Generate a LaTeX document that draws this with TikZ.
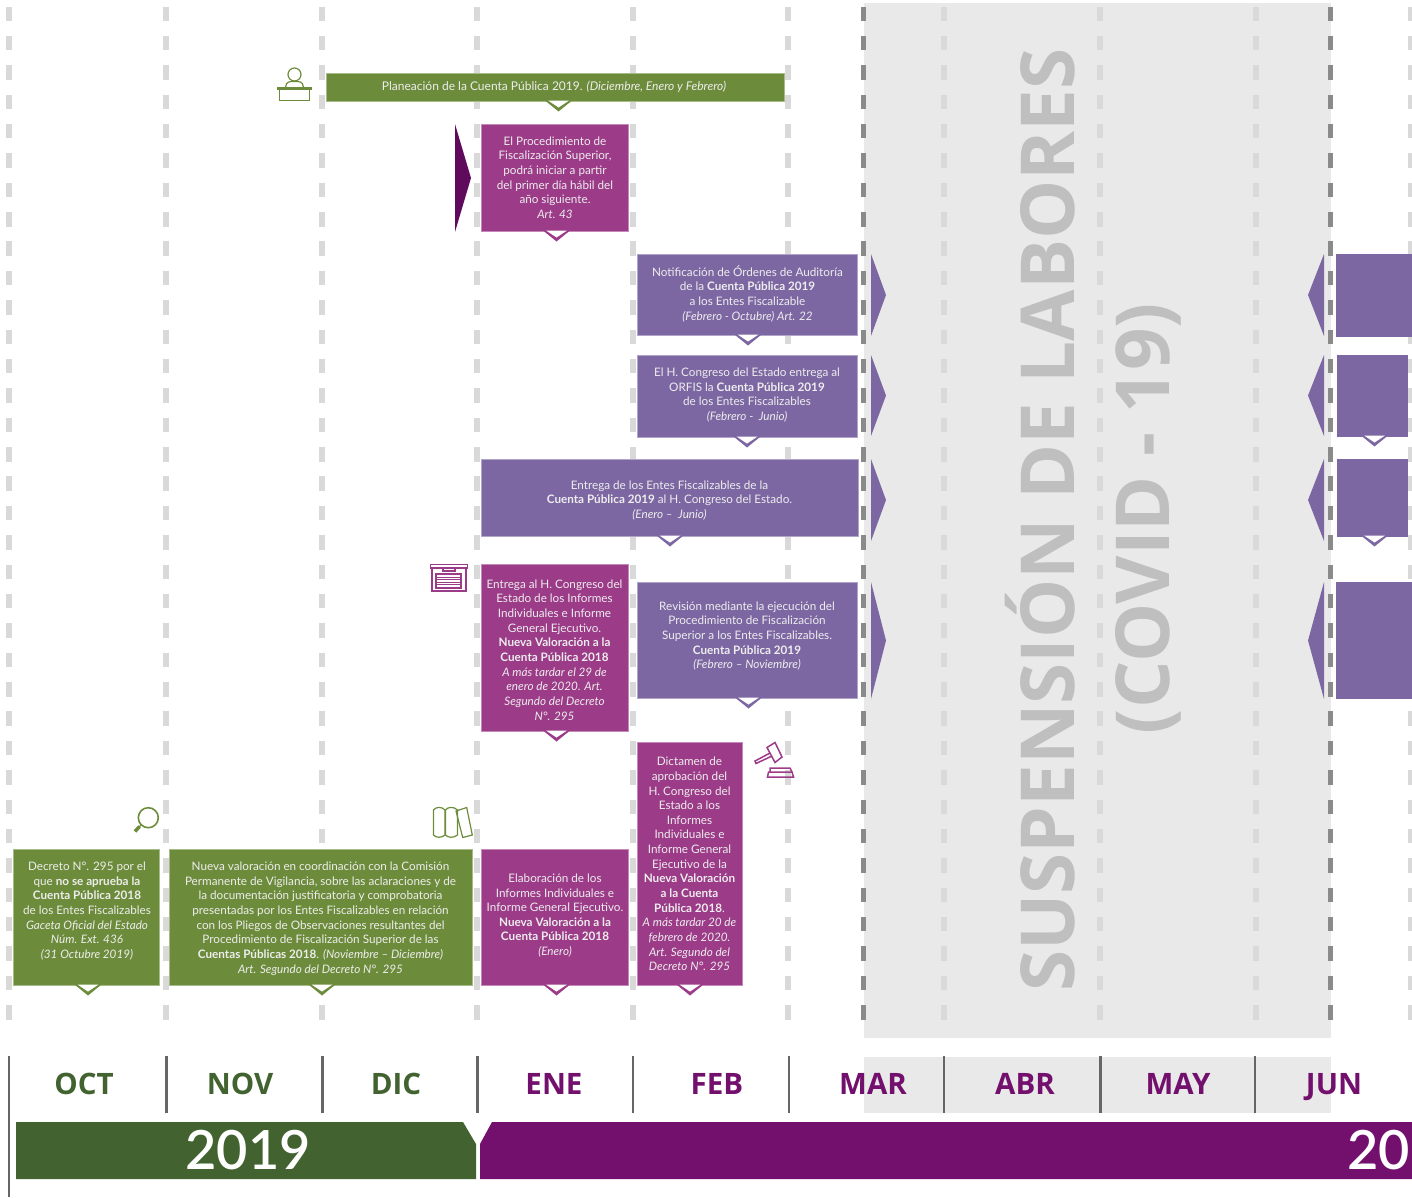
\documentclass[tikz,border=0pt]{standalone}
\usepackage{fontspec}
\setmainfont{Lato}
\newfontfamily\headfont{Open Sans}
\newfontfamily\yearfont{Lato Semibold}
\definecolor{cgreen}{HTML}{6D8C3B}
\definecolor{cmag}{HTML}{9C3B88}
\definecolor{cvio}{HTML}{7C67A3}
\definecolor{cdpur}{HTML}{5F0A5C}
\definecolor{cyeargreen}{HTML}{426330}
\definecolor{cyearpur}{HTML}{73106E}
\definecolor{cband}{HTML}{E9E9E9}
\definecolor{cdash}{HTML}{D9D9D9}
\definecolor{cdashd}{HTML}{8A8A8A}
\definecolor{ctick}{HTML}{666666}
\definecolor{ctitle}{HTML}{BFBFBF}
\tikzset{
  guide/.style={draw=cdash,line width=6pt,dash pattern=on 14.5pt off 14.87pt},
  guidedark/.style={draw=cdashd,line width=5pt,dash pattern=on 14.5pt off 14.87pt},
  monthtick/.style={draw=ctick,line width=2.5pt},
  boxtext/.style={text=white!93!black,align=center,inner sep=0pt,font=\fontsize{11.7}{14.65}\selectfont},
  monthlabel/.style={inner sep=0pt,anchor=base,font=\headfont\fontsize{29.5}{30}\selectfont\bfseries},
  yearlabel/.style={inner sep=0pt,text=white,font=\yearfont\fontsize{54}{54}\selectfont},
  bigtitle/.style={inner sep=0pt,text=ctitle,rotate=90,font=\headfont\bfseries\fontsize{74.5}{74.5}\selectfont},
  iconline/.style={line width=1.2pt,fill=none},
}
% name, x1, y1, x2, y2, colour
\newcommand{\bx}[6]{\node[fill=#6,draw=#6!60,line width=.6pt,outer sep=0pt,inner sep=0pt,anchor=north west,minimum width=#4pt-#2pt-.6pt,minimum height=#5pt-#3pt-.6pt] (#1) at (#2,#3) {};}
% x, box bottom y, colour
\newcommand{\chev}[3]{%
  \fill[#3] ({#1-13.5},{#2-1.5}) -- ({#1+13.5},{#2-1.5}) -- (#1,{#2+9.5}) -- cycle;
  \fill[white] ({#1-10.5},{#2-1.5}) -- ({#1+10.5},{#2-1.5}) -- (#1,{#2+5.5}) -- cycle;}
\begin{document}
\begin{tikzpicture}[x=1pt,y=-1pt]
\useasboundingbox (0,0) rectangle (1412,1197);
\begin{scope}
\clip (0,0) rectangle (1412,1197);
% suspended band
\fill[cband] (864,3) rectangle (1331,1038);
\fill[cband] (864,1057) rectangle (1331,1113);
% guides
\foreach \gx in {9,165.5,321.5,477,632.5,788,944,1100,1256,1410.5}
  \draw[guide] (\gx,6.5) -- (\gx,1021);
\foreach \gx in {863.7,1330.3}
  \draw[guidedark] (\gx,6.5) -- (\gx,1021);
% title
\node[bigtitle] (t1) at (1040,520) {SUSPENSIÓN DE LABORES};
\node[bigtitle] (t2) at (1148,518.5) {(COVID - 19)};
% boxes
\bx{plan}{326}{73}{785}{102}{cgreen}
\chev{558.5}{102}{cgreen}
\node[boxtext,font=\fontsize{12}{14.65}\selectfont] (plant) at (554,87) {Planeación de la Cuenta Pública 2019. \textit{(Diciembre, Enero y Febrero)}};

\fill[cdpur] (455,124) -- (471,178) -- (455,232) -- cycle;
\bx{proc}{481}{124}{629}{232}{cmag}
\chev{556.5}{232}{cmag}
\node[boxtext] (proct) at (555,177.5) {El Procedimiento de\\Fiscalización Superior,\\podrá iniciar a partir\\del primer día hábil del\\año siguiente.\\\textit{Art. 43}};

\bx{notif}{637}{254}{858}{336}{cvio}
\chev{748}{336}{cvio}
\node[boxtext] (notift) at (747.5,293.5) {Notificación de Órdenes de Auditoría\\de la \textbf{Cuenta Pública 2019}\\a los Entes Fiscalizable\\\textit{(Febrero - Octubre) Art. 22}};

\bx{cong}{637}{355}{858}{438}{cvio}
\chev{747}{438}{cvio}
\node[boxtext] (congt) at (747,395) {El H. Congreso del Estado entrega al\\ORFIS la \textbf{Cuenta Pública 2019}\\de los Entes Fiscalizables\\\textit{(Febrero -\ \ Junio)}};

\bx{entr}{481}{459}{859}{537}{cvio}
\chev{670}{537}{cvio}
\node[boxtext] (entrt) at (669.5,500.5) {Entrega de los Entes Fiscalizables de la\\\textbf{Cuenta Pública 2019} al H. Congreso del Estado.\\\textit{(Enero --\ \ Junio)}};

\bx{enal}{481}{564}{629}{732}{cmag}
\chev{556.5}{732}{cmag}
\node[boxtext] (enalt) at (554.5,650) {Entrega al H. Congreso del\\Estado de los Informes\\Individuales e Informe\\General Ejecutivo.\\\textbf{Nueva Valoración a la}\\\textbf{Cuenta Pública 2018}\\\textit{A más tardar el 29 de}\\\textit{enero de 2020. Art.}\\\textit{Segundo del Decreto}\\\textit{N°. 295}};

\bx{rev}{637}{582}{858}{699}{cvio}
\chev{748.5}{699}{cvio}
\node[boxtext] (revt) at (747,636) {Revisión mediante la ejecución del\\Procedimiento de Fiscalización\\Superior a los Entes Fiscalizables.\\\textbf{Cuenta Pública 2019}\\\textit{(Febrero -- Noviembre)}};

\bx{dict}{637}{742}{743}{986}{cmag}
\chev{690}{986}{cmag}
\node[boxtext] (dictt) at (689.5,864) {Dictamen de\\aprobación del\\H. Congreso del\\Estado a los\\Informes\\Individuales e\\Informe General\\Ejecutivo de la\\\textbf{Nueva Valoración}\\\textbf{a la Cuenta}\\\textbf{Pública 2018}.\\\textit{A más tardar 20 de}\\\textit{febrero de 2020.}\\\textit{Art. Segundo del}\\\textit{Decreto N°. 295}};

\bx{decr}{13}{849}{160}{986}{cgreen}
\chev{88}{986}{cgreen}
\node[boxtext] (decrt) at (87,911) {Decreto N°. 295 por el\\que \textbf{no se aprueba la}\\\textbf{Cuenta Pública 2018}\\de los Entes Fiscalizables\\\textit{Gaceta Oficial del Estado}\\\textit{Núm. Ext. 436}\\\textit{(31 Octubre 2019)}};

\bx{nuev}{169}{849}{473}{986}{cgreen}
\chev{322}{986}{cgreen}
\node[boxtext] (nuevt) at (320.5,918.5) {Nueva valoración en coordinación con la Comisión\\Permanente de Vigilancia, sobre las aclaraciones y de\\la documentación justificatoria y comprobatoria\\presentadas por los Entes Fiscalizables en relación\\con los Pliegos de Observaciones resultantes del\\Procedimiento de Fiscalización Superior de las\\\textbf{Cuentas Públicas 2018}. \textit{(Noviembre -- Diciembre)}\\\textit{Art. Segundo del Decreto N°. 295}};

\bx{elab}{481}{849}{629}{986}{cmag}
\chev{556.5}{986}{cmag}
\node[boxtext] (elabt) at (555,915.5) {Elaboración de los\\Informes Individuales e\\Informe General Ejecutivo.\\\textbf{Nueva Valoración a la}\\\textbf{Cuenta Pública 2018}\\\textit{(Enero)}};

% side arrows
\foreach \ya/\yb in {254/336,355/436,459/541,582/699}{
  \fill[cvio] (871,\ya) -- (886,{(\ya+\yb)/2}) -- (871,\yb) -- cycle;
  \fill[cvio] (1324,\ya) -- (1308,{(\ya+\yb)/2}) -- (1324,\yb) -- cycle;
}
% right continuation boxes
\fill[cvio] (1336,254) rectangle (1412,337);
\fill[cvio] (1337,355) rectangle (1408,437);
\chev{1374.5}{437}{cvio}
\fill[cvio] (1337,459) rectangle (1408,537);
\chev{1374.5}{537}{cvio}
\fill[cvio] (1336,582) rectangle (1412,699);
% icon: lectern
\begin{scope}[draw=cgreen,iconline]
  \draw (294.5,74.5) circle (6.5);
  \draw (285.5,87.5) .. controls (286,81) and (290,81.5) .. (294.5,81.5) .. controls (299,81.5) and (303,81) .. (303.5,87.5);
  \draw (277.5,88) rectangle (311.5,89.5);
  \draw (279.5,89.5) rectangle (309.5,100.5);
\end{scope}
% icon: archive
\begin{scope}[draw=cmag,iconline]
  \draw (430.5,564.5) rectangle (467.5,568);
  \draw (432,568) rectangle (466,591);
  \draw (436,574) rectangle (461,588);
  \draw (443,568) -- (443,571) -- (455,571) -- (455,568);
  \foreach \ly in {577,579.5,582,584.5} \draw[line width=.5pt] (437,\ly) -- (460,\ly);
\end{scope}
% icon: gavel
\begin{scope}[draw=cmag,line width=1.5pt,fill=none]
  \draw (767,747.5) -- (775,742.5) -- (782,757) -- (775,762.5) -- cycle;
  \draw (770,753) -- (755,761) -- (756,763.5) -- (772,756);
  \draw (770,772) -- (770,768) -- (790,768) -- (792,772);
  \draw (767.5,777) -- (768.5,772) -- (792,772) -- (793.5,777) -- cycle;
\end{scope}
% icon: magnifier
\draw[cgreen,line width=1.6pt] (148.3,817.7) circle (10);
\draw[cgreen,line width=1.2pt] (141.3,824.7) -- (139,827);
\draw[cgreen,line width=3.5pt] (139.5,826.5) -- (135,831.5);
% icon: books
\begin{scope}[draw=cgreen,iconline]
  \draw (433.5,810) .. controls (436,806.5) and (442,806.5) .. (445,810) -- (445,835) .. controls (442,838) and (436,838) .. (433.5,835) -- cycle;
  \draw (445.5,810) .. controls (448,806.5) and (454,806.5) .. (457.5,810) -- (457.5,835) .. controls (454,838) and (448,838) .. (445.5,835) -- cycle;
  \draw (456,811) -- (466.7,807.5) -- (472.3,835) -- (462.7,837.5) -- cycle;
\end{scope}
% months
\foreach \tx in {166.5,322.5,477.5,633,789,944,1100.5,1255}
  \draw[monthtick] (\tx,1056) -- (\tx,1113);
\draw[monthtick] (9,1056) -- (9,1197);
\foreach \nm/\mx/\mc in {OCT/84/cyeargreen,NOV/240/cyeargreen,DIC/396/cyeargreen,ENE/554/cyearpur,FEB/717/cyearpur,MAR/873/cyearpur,ABR/1025/cyearpur,MAY/1178/cyearpur,JUN/1334/cyearpur}
  \node[monthlabel,text=\mc] (m\nm) at (\mx,1094.5) {\nm};
% year bars
\fill[cyeargreen] (16,1122) -- (463,1122) -- (476,1144) -- (476,1179) -- (16,1179) -- cycle;
\fill[cyearpur] (492,1122) -- (1412,1122) -- (1412,1179) -- (480,1179) -- (480,1144) -- cycle;
\node[yearlabel] (y19) at (248,1150) {2019};
\node[yearlabel,anchor=east] (y20) at (1410,1150) {20};
\end{scope}
\end{tikzpicture}
\end{document}
